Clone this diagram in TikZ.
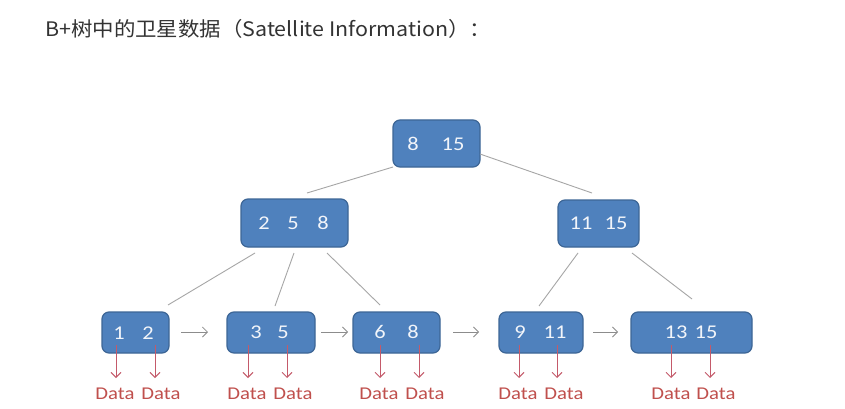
\documentclass[tikz,border=0pt]{standalone}
\usepackage{fontspec}
\usetikzlibrary{arrows.meta}
\newfontfamily\cjkfont{Noto Sans CJK SC}
\newfontfamily\calfont[FakeStretch=1.15]{Carlito}
\definecolor{boxfill}{HTML}{4F81BD}
\definecolor{boxline}{HTML}{3D6696}
\definecolor{datared}{HTML}{C0504D}
\definecolor{arrred}{HTML}{C45A6A}
\definecolor{treegray}{HTML}{A6A6A6}
\definecolor{linkgray}{HTML}{8C8C8C}
\definecolor{titlegray}{HTML}{333333}
\definecolor{numwhite}{HTML}{F2F5FA}
\tikzset{
  box/.style={draw=boxline, fill=boxfill, line width=1.2pt, rounded corners=7pt, inner sep=0pt},
  num/.style={text=numwhite, font=\calfont\fontsize{19.5}{19.5}\selectfont, inner sep=0pt},
  datalbl/.style={text=datared, font=\calfont\fontsize{18}{18}\selectfont, inner sep=0pt},
  treeline/.style={draw=treegray, line width=0.9pt},
  linkarrow/.style={draw=linkgray, line width=0.8pt, -{Straight Barb[length=5pt,width=10pt]}},
  dataarrow/.style={draw=arrred, line width=0.9pt, -{Straight Barb[length=5pt,width=10pt]}},
  titletext/.style={text=titlegray, font=\cjkfont\fontsize{20}{20}\selectfont, inner sep=0pt},
}
\begin{document}
\begin{tikzpicture}[x=1pt,y=-1pt]
\fill[white] (0,0) rectangle (845,409);
\useasboundingbox (0,0) rectangle (845,409);

\node[titletext, anchor=base west] (title) at (45,37) {\resizebox{446pt}{\height}{B+树中的卫星数据（Satellite Information）：}};

% boxes
\node[box, minimum width=87, minimum height=47] (root) at (436.5,143.5) {};
\node[box, minimum width=107, minimum height=48] (i1) at (294.5,223) {};
\node[box, minimum width=81, minimum height=47] (i2) at (598.5,223.5) {};
\node[box, minimum width=67, minimum height=41] (l1) at (135.5,332.5) {};
\node[box, minimum width=88, minimum height=41] (l2) at (271,332.5) {};
\node[box, minimum width=87, minimum height=41] (l3) at (396.5,332.5) {};
\node[box, minimum width=84, minimum height=41] (l4) at (541,332.5) {};
\node[box, minimum width=121, minimum height=41] (l5) at (691.5,332.5) {};

% keys
\node[num] (r1) at (413,144) {8};
\node[num] (r2) at (453,144) {15};
\node[num] (a1) at (264,223) {2};
\node[num] (a2) at (293,223) {5};
\node[num] (a3) at (323,223) {8};
\node[num] (b1) at (581,223) {11};
\node[num] (b2) at (616,223) {15};
\node[num] (k11) at (119,333) {1};
\node[num] (k12) at (148,333) {2};
\node[num] (k21) at (256,332) {3};
\node[num] (k22) at (283,332) {5};
\node[num] (k31) at (380,332) {6};
\node[num] (k32) at (413,332) {8};
\node[num] (k41) at (520,332) {9};
\node[num] (k42) at (555,332) {11};
\node[num] (k51) at (676,332) {13};
\node[num] (k52) at (706,332) {15};

% tree connectors
\coordinate (rl) at (393,167); \coordinate (i1t) at (307,193);
\coordinate (rr) at (480,154); \coordinate (i2t) at (592,193);
\coordinate (i1a) at (255,253); \coordinate (l1t) at (168,305);
\coordinate (i1b) at (294,253); \coordinate (l2t) at (275,306);
\coordinate (i1c) at (327,253); \coordinate (l3t) at (380,305);
\coordinate (i2a) at (578,253); \coordinate (l4t) at (539,306);
\coordinate (i2b) at (632,253); \coordinate (l5t) at (692,299);
\draw[treeline] (rl) -- (i1t);
\draw[treeline] (rr) -- (i2t);
\draw[treeline] (i1a) -- (l1t);
\draw[treeline] (i1b) -- (l2t);
\draw[treeline] (i1c) -- (l3t);
\draw[treeline] (i2a) -- (l4t);
\draw[treeline] (i2b) -- (l5t);

% leaf links
\coordinate (p1s) at (181,332); \coordinate (p1e) at (208,332);
\coordinate (p2s) at (321,332); \coordinate (p2e) at (348,332);
\coordinate (p3s) at (453,332); \coordinate (p3e) at (479,332);
\coordinate (p4s) at (593,332); \coordinate (p4e) at (618,332);
\draw[linkarrow] (p1s) -- (p1e);
\draw[linkarrow] (p2s) -- (p2e);
\draw[linkarrow] (p3s) -- (p3e);
\draw[linkarrow] (p4s) -- (p4e);

% data labels
\node[datalbl] (d11) at (115,394) {Data};
\node[datalbl] (d12) at (161,394) {Data};
\node[datalbl] (d21) at (247,394) {Data};
\node[datalbl] (d22) at (293,394) {Data};
\node[datalbl] (d31) at (379,394) {Data};
\node[datalbl] (d32) at (425,394) {Data};
\node[datalbl] (d41) at (518,394) {Data};
\node[datalbl] (d42) at (564,394) {Data};
\node[datalbl] (d51) at (671,394) {Data};
\node[datalbl] (d52) at (716,394) {Data};

% data arrows
\foreach \n/\x in {11/116,12/155,21/248,22/287,31/380,32/419,41/519,42/557,51/671,52/710}{
  \coordinate (s\n) at (\x,345);
  \coordinate (e\n) at (\x,378);
  \draw[dataarrow] (s\n) -- (e\n);
}
\end{tikzpicture}
\end{document}
